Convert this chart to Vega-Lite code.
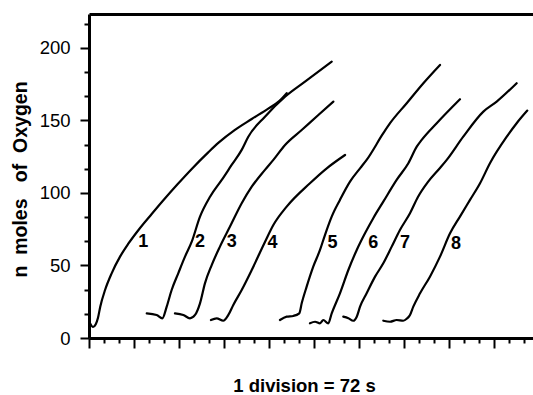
{
  "$schema": "https://vega.github.io/schema/vega-lite/v6.json",
  "width": 444,
  "height": 324,
  "autosize": {"type": "none"},
  "padding": {"left": 89, "top": 14, "right": 0, "bottom": 57},
  "background": "white",
  "config": {"view": {"stroke": null}, "font": "Liberation Sans"},
  "datasets": {
    "curves": [
      {"curve": 1, "x": 0.05, "y": 10.5}, {"curve": 1, "x": 0.27, "y": 7.6}, {"curve": 1, "x": 0.45, "y": 9.5}, {"curve": 1, "x": 0.6, "y": 14}, {"curve": 1, "x": 0.75, "y": 21.6},
      {"curve": 1, "x": 1.07, "y": 33.1}, {"curve": 1, "x": 1.51, "y": 44.6}, {"curve": 1, "x": 2.07, "y": 56.1}, {"curve": 1, "x": 2.62, "y": 65.0}, {"curve": 1, "x": 3.3, "y": 74.5},
      {"curve": 1, "x": 4.18, "y": 85.5}, {"curve": 1, "x": 5.0, "y": 95.5}, {"curve": 1, "x": 5.9, "y": 106.0}, {"curve": 1, "x": 6.85, "y": 116.6}, {"curve": 1, "x": 7.95, "y": 128.0},
      {"curve": 1, "x": 8.62, "y": 134.5}, {"curve": 1, "x": 9.73, "y": 143.5}, {"curve": 1, "x": 10.85, "y": 151.0}, {"curve": 1, "x": 11.95, "y": 158.2}, {"curve": 1, "x": 12.7, "y": 163.5}, {"curve": 1, "x": 13.18, "y": 168.8},
      {"curve": 2, "x": 3.85, "y": 17.0}, {"curve": 2, "x": 4.51, "y": 15.9}, {"curve": 2, "x": 4.89, "y": 13.6}, {"curve": 2, "x": 5.18, "y": 21.6}, {"curve": 2, "x": 5.51, "y": 33.1},
      {"curve": 2, "x": 5.95, "y": 44.6}, {"curve": 2, "x": 6.4, "y": 56.1}, {"curve": 2, "x": 6.85, "y": 66.4}, {"curve": 2, "x": 7.4, "y": 83.7}, {"curve": 2, "x": 8.07, "y": 97.4},
      {"curve": 2, "x": 8.85, "y": 109.0}, {"curve": 2, "x": 9.51, "y": 119.3}, {"curve": 2, "x": 10.18, "y": 129.7}, {"curve": 2, "x": 10.62, "y": 138.8}, {"curve": 2, "x": 11.73, "y": 152.6},
      {"curve": 2, "x": 13.07, "y": 166.4}, {"curve": 2, "x": 14.4, "y": 176.8}, {"curve": 2, "x": 16.18, "y": 190.6},
      {"curve": 3, "x": 5.73, "y": 17.0}, {"curve": 3, "x": 6.29, "y": 15.9}, {"curve": 3, "x": 6.73, "y": 13.6}, {"curve": 3, "x": 7.07, "y": 15.9}, {"curve": 3, "x": 7.4, "y": 23.9},
      {"curve": 3, "x": 7.73, "y": 37.7}, {"curve": 3, "x": 8.18, "y": 50.3}, {"curve": 3, "x": 8.73, "y": 63.0}, {"curve": 3, "x": 9.4, "y": 76.8}, {"curve": 3, "x": 10.18, "y": 92.9},
      {"curve": 3, "x": 10.85, "y": 104.3}, {"curve": 3, "x": 11.73, "y": 115.9}, {"curve": 3, "x": 12.29, "y": 122.8}, {"curve": 3, "x": 13.07, "y": 133.1}, {"curve": 3, "x": 14.18, "y": 143.4},
      {"curve": 3, "x": 15.29, "y": 153.8}, {"curve": 3, "x": 16.29, "y": 163.0},
      {"curve": 4, "x": 8.13, "y": 12.4}, {"curve": 4, "x": 8.51, "y": 13.6}, {"curve": 4, "x": 8.95, "y": 11.9}, {"curve": 4, "x": 9.29, "y": 15.9}, {"curve": 4, "x": 9.62, "y": 22.8},
      {"curve": 4, "x": 10.18, "y": 33.1}, {"curve": 4, "x": 10.85, "y": 46.9}, {"curve": 4, "x": 11.73, "y": 66.2}, {"curve": 4, "x": 12.29, "y": 77.9}, {"curve": 4, "x": 13.18, "y": 90.6},
      {"curve": 4, "x": 14.73, "y": 106.7}, {"curve": 4, "x": 15.85, "y": 117.0}, {"curve": 4, "x": 17.07, "y": 126.2},
      {"curve": 5, "x": 12.73, "y": 12.4}, {"curve": 5, "x": 13.18, "y": 14.7}, {"curve": 5, "x": 13.62, "y": 15.2}, {"curve": 5, "x": 14.02, "y": 17.0}, {"curve": 5, "x": 14.18, "y": 23.9},
      {"curve": 5, "x": 14.51, "y": 35.4}, {"curve": 5, "x": 14.95, "y": 49.2}, {"curve": 5, "x": 15.4, "y": 60.7}, {"curve": 5, "x": 15.73, "y": 71.0}, {"curve": 5, "x": 16.18, "y": 83.7},
      {"curve": 5, "x": 16.73, "y": 95.2}, {"curve": 5, "x": 17.4, "y": 107.8}, {"curve": 5, "x": 18.07, "y": 117.0}, {"curve": 5, "x": 18.51, "y": 122.8}, {"curve": 5, "x": 19.62, "y": 141.2},
      {"curve": 5, "x": 20.07, "y": 148.1}, {"curve": 5, "x": 21.18, "y": 161.9}, {"curve": 5, "x": 22.29, "y": 175.7}, {"curve": 5, "x": 23.4, "y": 188.3},
      {"curve": 6, "x": 14.73, "y": 10.1}, {"curve": 6, "x": 15.07, "y": 11.2}, {"curve": 6, "x": 15.4, "y": 10.1}, {"curve": 6, "x": 15.62, "y": 12.4}, {"curve": 6, "x": 15.95, "y": 10.1},
      {"curve": 6, "x": 16.18, "y": 17.0}, {"curve": 6, "x": 16.73, "y": 30.8}, {"curve": 6, "x": 17.29, "y": 46.9}, {"curve": 6, "x": 17.85, "y": 60.7}, {"curve": 6, "x": 18.4, "y": 72.2},
      {"curve": 6, "x": 18.95, "y": 82.6}, {"curve": 6, "x": 19.62, "y": 94.0}, {"curve": 6, "x": 20.51, "y": 109.0}, {"curve": 6, "x": 21.29, "y": 120.5}, {"curve": 6, "x": 21.85, "y": 131.9},
      {"curve": 6, "x": 22.18, "y": 136.6}, {"curve": 6, "x": 23.18, "y": 148.1}, {"curve": 6, "x": 24.73, "y": 164.6},
      {"curve": 7, "x": 16.95, "y": 14.7}, {"curve": 7, "x": 17.29, "y": 13.6}, {"curve": 7, "x": 17.62, "y": 11.9}, {"curve": 7, "x": 17.85, "y": 14.7}, {"curve": 7, "x": 18.07, "y": 21.6},
      {"curve": 7, "x": 18.51, "y": 30.8}, {"curve": 7, "x": 19.07, "y": 42.3}, {"curve": 7, "x": 19.62, "y": 51.5}, {"curve": 7, "x": 20.18, "y": 63.0}, {"curve": 7, "x": 20.73, "y": 74.5},
      {"curve": 7, "x": 21.4, "y": 86.0}, {"curve": 7, "x": 21.93, "y": 97.2}, {"curve": 7, "x": 22.6, "y": 107.6}, {"curve": 7, "x": 23.4, "y": 117.2}, {"curve": 7, "x": 23.85, "y": 122.8},
      {"curve": 7, "x": 24.95, "y": 138.8}, {"curve": 7, "x": 26.29, "y": 156.1}, {"curve": 7, "x": 27.18, "y": 163.0}, {"curve": 7, "x": 28.51, "y": 175.7},
      {"curve": 8, "x": 19.62, "y": 11.9}, {"curve": 8, "x": 20.07, "y": 11.2}, {"curve": 8, "x": 20.51, "y": 12.4}, {"curve": 8, "x": 20.95, "y": 11.9}, {"curve": 8, "x": 21.2, "y": 13.4},
      {"curve": 8, "x": 21.4, "y": 15.9}, {"curve": 8, "x": 21.62, "y": 21.6}, {"curve": 8, "x": 22.07, "y": 30.8}, {"curve": 8, "x": 22.73, "y": 42.3}, {"curve": 8, "x": 23.4, "y": 56.1},
      {"curve": 8, "x": 24.07, "y": 72.2}, {"curve": 8, "x": 24.73, "y": 83.7}, {"curve": 8, "x": 25.4, "y": 95.2}, {"curve": 8, "x": 26.07, "y": 106.7}, {"curve": 8, "x": 26.73, "y": 120.5},
      {"curve": 8, "x": 27.85, "y": 138.8}, {"curve": 8, "x": 28.51, "y": 148.1}, {"curve": 8, "x": 29.22, "y": 156.8}
    ],
    "labels": [
      {"label": "1", "x": 3.62, "y": 66.4},
      {"label": "2", "x": 7.4, "y": 66.4},
      {"label": "3", "x": 9.51, "y": 66.4},
      {"label": "4", "x": 12.24, "y": 65.7},
      {"label": "5", "x": 16.24, "y": 65.7},
      {"label": "6", "x": 18.95, "y": 65.7},
      {"label": "7", "x": 21.07, "y": 65.7},
      {"label": "8", "x": 24.47, "y": 64.8}
    ]
  },
  "layer": [
    {
      "data": {"name": "curves"},
      "mark": {"type": "line", "color": "black", "strokeWidth": 2.2, "strokeJoin": "round", "strokeCap": "round", "interpolate": "monotone"},
      "encoding": {
        "x": {
          "field": "x", "type": "quantitative",
          "scale": {"domain": [0, 29.6], "nice": false, "zero": false},
          "axis": {
            "orient": "bottom",
            "values": [0,1,2,3,4,5,6,7,8,9,10,11,12,13,14,15,16,17,18,19,20,21,22,23,24,25,26,27,28,29],
            "labels": false, "grid": false,
            "domainColor": "black", "domainWidth": 3,
            "tickColor": "black", "tickWidth": 2,
            "tickSize": {"condition": {"test": "datum.value % 3 === 0", "value": 10}, "value": 5},
            "title": "1 division = 72 s",
            "titleFont": "Liberation Sans", "titleFontSize": 18.5, "titleFontWeight": "bold", "titleColor": "black",
            "titleAnchor": null, "titleAlign": "center", "titleBaseline": "alphabetic",
            "titleX": 215, "titleY": 53
          }
        },
        "y": {
          "field": "y", "type": "quantitative",
          "scale": {"domain": [0, 223.4], "nice": false, "zero": false},
          "axis": {
            "values": [0, 16.6667, 33.3333, 50, 66.6667, 83.3333, 100, 116.6667, 133.3333, 150, 166.6667, 183.3333, 200, 216.6667],
            "labelExpr": "abs(datum.value % 50) < 0.01 ? format(datum.value, 'd') : ''",
            "labelOverlap": false,
            "labelFont": "Liberation Sans", "labelFontSize": 18.5, "labelColor": "black", "labelPadding": 10,
            "grid": false,
            "domainColor": "black", "domainWidth": 3,
            "tickColor": "black", "tickWidth": 2,
            "tickSize": {"condition": {"test": "abs(datum.value % 50) < 0.01", "value": 9}, "value": 5},
            "title": "n\u00a0\u00a0moles\u00a0\u00a0\u00a0of\u00a0\u00a0Oxygen",
            "titleFont": "Liberation Sans", "titleFontSize": 19.5, "titleFontWeight": "bold", "titleColor": "black",
            "titleAngle": -90, "titleAlign": "center", "titleBaseline": "middle",
            "titleX": -69, "titleY": 165
          }
        },
        "detail": {"field": "curve", "type": "nominal"}
      }
    },
    {
      "data": {"name": "labels"},
      "mark": {"type": "text", "font": "Liberation Sans", "fontSize": 18, "fontWeight": "bold", "color": "black", "align": "center", "baseline": "middle"},
      "encoding": {
        "x": {
          "field": "x", "type": "quantitative",
          "scale": {"domain": [0, 29.6], "nice": false, "zero": false},
          "axis": {"orient": "top", "ticks": false, "labels": false, "grid": false, "title": null, "domainColor": "black", "domainWidth": 3}
        },
        "y": {
          "field": "y", "type": "quantitative",
          "scale": {"domain": [0, 223.4], "nice": false, "zero": false},
          "axis": {
            "values": [0, 16.6667, 33.3333, 50, 66.6667, 83.3333, 100, 116.6667, 133.3333, 150, 166.6667, 183.3333, 200, 216.6667],
            "labelExpr": "abs(datum.value % 50) < 0.01 ? format(datum.value, 'd') : ''",
            "labelOverlap": false,
            "labelFont": "Liberation Sans", "labelFontSize": 18.5, "labelColor": "black", "labelPadding": 10,
            "grid": false,
            "domainColor": "black", "domainWidth": 3,
            "tickColor": "black", "tickWidth": 2,
            "tickSize": {"condition": {"test": "abs(datum.value % 50) < 0.01", "value": 9}, "value": 5},
            "title": "n\u00a0\u00a0moles\u00a0\u00a0\u00a0of\u00a0\u00a0Oxygen",
            "titleFont": "Liberation Sans", "titleFontSize": 19.5, "titleFontWeight": "bold", "titleColor": "black",
            "titleAngle": -90, "titleAlign": "center", "titleBaseline": "middle",
            "titleX": -69, "titleY": 165
          }
        },
        "text": {"field": "label", "type": "nominal"}
      }
    }
  ],
  "resolve": {"axis": {"x": "independent"}}
}
